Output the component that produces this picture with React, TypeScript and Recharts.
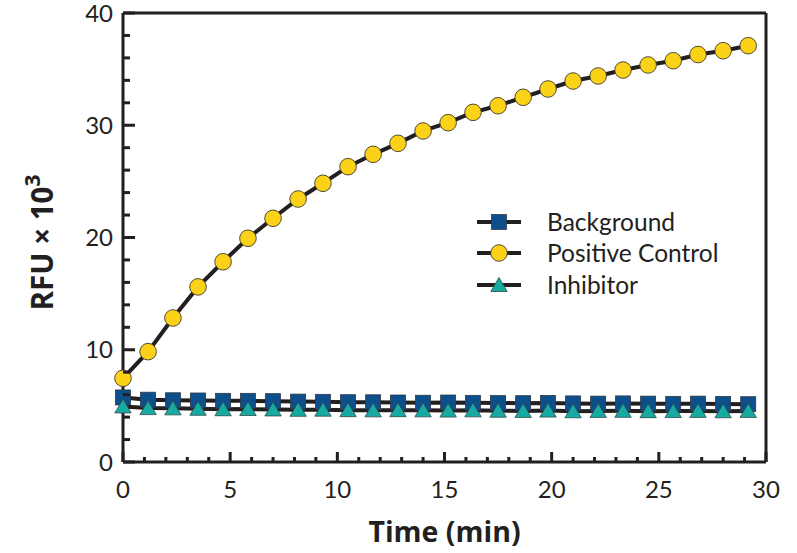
import { LineChart, Line, XAxis, YAxis, Legend, ReferenceLine } from "recharts";

// sampling times (min), one read every 70 s
const times = [
  0, 1.17, 2.33, 3.5, 4.67, 5.83, 7, 8.17, 9.33, 10.5, 11.67, 12.83, 14,
  15.17, 16.33, 17.5, 18.67, 19.83, 21, 22.17, 23.33, 24.5, 25.67, 26.83, 28, 29.17,
];

// RFU x 10^3
const background = [
  5.75, 5.55, 5.5, 5.48, 5.45, 5.45, 5.42, 5.38, 5.36, 5.33, 5.32, 5.3, 5.28,
  5.3, 5.27, 5.25, 5.24, 5.26, 5.22, 5.2, 5.22, 5.2, 5.18, 5.2, 5.17, 5.15,
];
const positiveControl = [
  7.46, 9.83, 12.83, 15.6, 17.84, 19.93, 21.71, 23.43, 24.83, 26.31, 27.41, 28.39, 29.49,
  30.23, 31.15, 31.74, 32.49, 33.23, 33.94, 34.39, 34.92, 35.37, 35.75, 36.3, 36.64, 37.09,
];
const inhibitor = [
  4.95, 4.8, 4.78, 4.74, 4.7, 4.72, 4.68, 4.65, 4.66, 4.62, 4.6, 4.62, 4.6,
  4.58, 4.6, 4.57, 4.55, 4.58, 4.52, 4.55, 4.56, 4.53, 4.54, 4.55, 4.52, 4.55,
];

const xTicks = [
  0, 1, 2, 3, 4, 5, 6, 7, 8, 9, 10, 11, 12, 13, 14, 15,
  16, 17, 18, 19, 20, 21, 22, 23, 24, 25, 26, 27, 28, 29, 30,
];
const yTicks = [0, 2, 4, 6, 8, 10, 12, 14, 16, 18, 20, 22, 24, 26, 28, 30, 32, 34, 36, 38, 40];

const legendOrder = ["background", "positive", "inhibitor"];

const data = times.map((t, i) => ({
  time: t,
  background: background[i],
  positive: positiveControl[i],
  inhibitor: inhibitor[i],
}));

const INK = "#231f20";
const FONT = "Lato, 'Open Sans', sans-serif";
const TITLE_FONT = "'Open Sans', Lato, sans-serif";
const BLUE = "#0d4f8b";
const YELLOW = "#fcd219";
const TEAL = "#17aaa3";

const Square = ({ cx, cy }: any) =>
  cx == null ? null : (
    <rect x={cx - 7.5} y={cy - 7.5} width={15} height={15} fill={BLUE} stroke="#2e3b48" strokeWidth={0.8} />
  );

const Dot = ({ cx, cy }: any) =>
  cx == null ? null : <circle cx={cx} cy={cy} r={8.3} fill={YELLOW} stroke="#3d3a2a" strokeWidth={0.9} />;

const Tri = ({ cx, cy }: any) =>
  cx == null ? null : (
    <polygon
      points={`${cx},${cy - 7.5} ${cx - 8.2},${cy + 6.5} ${cx + 8.2},${cy + 6.5}`}
      fill={TEAL}
      stroke="#2e4a48"
      strokeWidth={0.8}
    />
  );

const markers: Record<string, any> = { background: Square, positive: Dot, inhibitor: Tri };

const XTick = ({ x, y, payload }: any) => {
  const major = payload.value % 5 === 0;
  return (
    <g>
      <line x1={x} x2={x} y1={y} y2={y - (major ? 10 : 5)} stroke={INK} strokeWidth={3} />
      {major && (
        <text x={x} y={y + 36} textAnchor="middle" fontFamily={FONT} fontSize={24} fill={INK}>
          {payload.value}
        </text>
      )}
    </g>
  );
};

const YTick = ({ x, y, payload }: any) => {
  const major = payload.value % 10 === 0;
  return (
    <g>
      <line x1={x} x2={x + (major ? 12 : 7)} y1={y} y2={y} stroke={INK} strokeWidth={3} />
      {major && (
        <text x={x - 10} y={y + 8.5} textAnchor="end" fontFamily={FONT} fontSize={24} fill={INK}>
          {payload.value}
        </text>
      )}
    </g>
  );
};

const XTitle = ({ viewBox }: any) => (
  <text
    x={viewBox.x + viewBox.width / 2}
    y={viewBox.y + 80}
    textAnchor="middle"
    fontFamily={TITLE_FONT}
    fontWeight="bold"
    fontSize={28.5}
    fill={INK}
  >
    Time (min)
  </text>
);

const YTitle = ({ viewBox }: any) => {
  const cx = 53;
  const cy = viewBox.y + viewBox.height / 2 + 5;
  return (
    <text
      x={cx}
      y={cy}
      transform={`rotate(-90 ${cx} ${cy})`}
      textAnchor="middle"
      fontFamily={TITLE_FONT}
      fontWeight="bold"
      fontSize={29.5}
      fill={INK}
    >
      RFU × 10<tspan dy={-13} fontSize={21}>3</tspan>
    </text>
  );
};

const LegendBox = ({ payload }: any) => {
  const items = [...(payload || [])].sort(
    (a: any, b: any) => legendOrder.indexOf(a.dataKey) - legendOrder.indexOf(b.dataKey)
  );
  return (
    <div>
      {items.map((entry: any) => {
        const Marker = markers[entry.dataKey];
        return (
          <div key={entry.dataKey} style={{ display: "flex", alignItems: "center", height: 31.5 }}>
            <svg width={50} height={22}>
              <line x1={2} x2={46} y1={11} y2={11} stroke={INK} strokeWidth={4} />
              <Marker cx={24} cy={11} />
            </svg>
            <span style={{ marginLeft: 22, fontFamily: FONT, fontSize: 24.5, color: INK, lineHeight: 1 }}>
              {entry.value}
            </span>
          </div>
        );
      })}
    </div>
  );
};

export default function App() {
  return (
    <div style={{ position: "absolute", left: 0, top: 0, background: "#fff" }}>
      <LineChart width={797} height={553} data={data} margin={{ top: 13, right: 31, left: 0, bottom: 0 }}>
        <XAxis
          dataKey="time"
          type="number"
          domain={[0, 30]}
          ticks={xTicks}
          interval={0}
          height={91}
          tickSize={0}
          tickMargin={0}
          tickLine={false}
          tick={<XTick />}
          axisLine={{ stroke: INK, strokeWidth: 3 }}
          label={<XTitle />}
        />
        <YAxis
          type="number"
          domain={[0, 40]}
          ticks={yTicks}
          interval={0}
          width={123}
          tickSize={0}
          tickMargin={0}
          tickLine={false}
          tick={<YTick />}
          axisLine={{ stroke: INK, strokeWidth: 3 }}
          label={<YTitle />}
        />
        <ReferenceLine y={40} stroke={INK} strokeWidth={3} />
        <ReferenceLine x={30} stroke={INK} strokeWidth={3} />
        <Line
          dataKey="positive"
          name="Positive Control"
          stroke={INK}
          strokeWidth={4}
          dot={<Dot />}
          activeDot={false}
          isAnimationActive={false}
        />
        <Line
          dataKey="background"
          name="Background"
          stroke={INK}
          strokeWidth={4}
          dot={<Square />}
          activeDot={false}
          isAnimationActive={false}
        />
        <Line
          dataKey="inhibitor"
          name="Inhibitor"
          stroke={INK}
          strokeWidth={4}
          dot={<Tri />}
          activeDot={false}
          isAnimationActive={false}
        />
        <Legend
          layout="vertical"
          align="center"
          verticalAlign="middle"
          content={<LegendBox />}
          wrapperStyle={{ left: 475, top: 206, width: 300 }}
        />
      </LineChart>
    </div>
  );
}
